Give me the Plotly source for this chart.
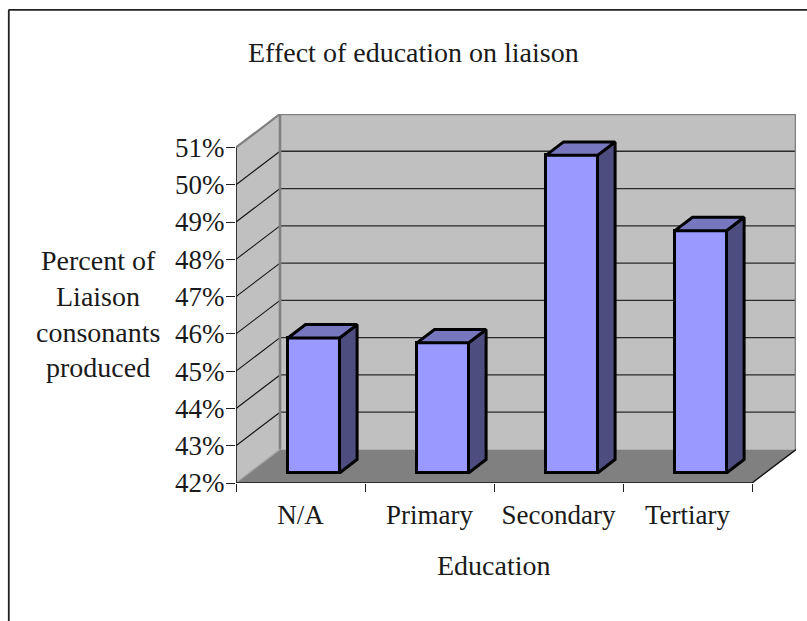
import plotly.graph_objects as go

# ---- data ----
categories = ["N/A", "Primary", "Secondary", "Tertiary"]
percent_liaison = [45.62, 45.49, 50.52, 48.50]
y_ticks = [42, 43, 44, 45, 46, 47, 48, 49, 50, 51]
y_tick_labels = [f"{v}%" for v in y_ticks]
title_text = "Effect of education on liaison"
x_title = "Education"
y_title_lines = ["Percent of", "Liaison", "consonants", "produced"]

# ---- layout constants ----
W, H = 807, 621
PX_L, PX_R, PX_T, PX_B = 236, 796, 114, 483
PX_PER_CAT = 129.0
PX_PER_PCT = 37.28
DEPTH_X = 44 / PX_PER_CAT      # oblique depth in axis units
DEPTH_Y = 33.5 / PX_PER_PCT
BAR_WIDTH = 0.4
BAR_D0, BAR_D1 = 0.3, 0.7      # bar front/back along depth
V_MIN, V_MAX = y_ticks[0], y_ticks[-1]
N = len(categories)
FONT = "Liberation Serif"
FS_TICK = 27
FS_TEXT = 28
INK = "#1a1a1a"
EDGE = "#808080"
WALL = "#c0c0c0"
FLOOR = "#808080"
BAR_FRONT = "#9999ff"
BAR_SIDE = "#4d4d80"
BAR_TOP = "#7777c0"
BAR_LINE = 3.0


def proj(x, v, d=0.0):
    """Oblique projection of (category pos, value, depth) to axis coords."""
    return x + d * DEPTH_X, v + d * DEPTH_Y


def path(points):
    pts = [proj(*p) for p in points]
    return "M " + " L ".join(f"{a},{b}" for a, b in pts) + " Z"


def poly_trace(points, fill, line_w=BAR_LINE):
    pts = [proj(*p) for p in points]
    pts.append(pts[0])
    return go.Scatter(x=[p[0] for p in pts], y=[p[1] for p in pts], mode="lines",
                      fill="toself", fillcolor=fill,
                      line=dict(color="#000000", width=line_w, simplify=False),
                      hoverinfo="skip", showlegend=False, cliponaxis=False)


def line_trace(points, color, width):
    pts = [proj(*p) for p in points]
    return go.Scatter(x=[p[0] for p in pts], y=[p[1] for p in pts], mode="lines",
                      line=dict(color=color, width=width),
                      hoverinfo="skip", showlegend=False, cliponaxis=False)


def shape_line(a, b, color, width):
    (x0, y0), (x1, y1) = proj(*a), proj(*b)
    return dict(type="line", xref="x", yref="y", x0=x0, y0=y0, x1=x1, y1=y1,
                layer="below", line=dict(color=color, width=width))


fig = go.Figure()

# Walls and floor
shapes = [
    dict(type="path", xref="x", yref="y", layer="below", line_width=0, fillcolor=WALL,
         path=path([(0, V_MIN, 1), (N, V_MIN, 1), (N, V_MAX, 1), (0, V_MAX, 1)])),
    dict(type="path", xref="x", yref="y", layer="below", line_width=0, fillcolor=WALL,
         path=path([(0, V_MIN, 0), (0, V_MIN, 1), (0, V_MAX, 1), (0, V_MAX, 0)])),
    dict(type="path", xref="x", yref="y", layer="below", line_width=0, fillcolor=FLOOR,
         path=path([(0, V_MIN, 0), (N, V_MIN, 0), (N, V_MIN, 1), (0, V_MIN, 1)])),
]
# Gridlines on both walls
for v in y_ticks[1:-1]:
    shapes.append(shape_line((0, v, 1), (N, v, 1), "#2a2a2a", 1.3))
    shapes.append(shape_line((0, v, 0), (0, v, 1), "#111111", 1.1))

# Frame of the chart area
shapes.append(dict(type="line", xref="paper", yref="paper",
                   x0=8.5 / W, x1=1, y0=1 - 9.8 / H, y1=1 - 9.8 / H,
                   line=dict(color="#222222", width=1.8)))
shapes.append(dict(type="line", xref="paper", yref="paper",
                   x0=8.8 / W, x1=8.8 / W, y0=0, y1=1 - 9.8 / H,
                   line=dict(color="#222222", width=1.8)))

# Bar fronts
fig.add_trace(go.Bar(
    x=[i + 0.5 + BAR_D0 * DEPTH_X for i in range(N)],
    y=[v - V_MIN for v in percent_liaison],
    base=[V_MIN + BAR_D0 * DEPTH_Y] * N,
    width=BAR_WIDTH,
    marker=dict(color=BAR_FRONT, line=dict(color="#000000", width=BAR_LINE)),
    hoverinfo="skip", showlegend=False,
))

# Wall edges, axis lines
fig.add_trace(line_trace([(0, V_MIN, 1), (0, V_MAX, 1), (N, V_MAX, 1), (N, V_MIN, 1)], EDGE, 2.6))
fig.add_trace(line_trace([(0, V_MAX, 0), (0, V_MAX, 1)], EDGE, 2.2))
fig.add_trace(line_trace([(0, V_MIN, 0), (0, V_MIN, 1)], "#a0a0a0", 1.2))
fig.add_trace(line_trace([(0, V_MIN, 0), (0, V_MAX, 0)], "#111111", 1.6))
fig.add_trace(line_trace([(0, V_MIN, 0), (N, V_MIN, 0), (N, V_MIN, 1)], "#111111", 1.4))

# Bar sides and tops
for i, v in enumerate(percent_liaison):
    x0 = i + 0.5 - BAR_WIDTH / 2
    x1 = i + 0.5 + BAR_WIDTH / 2
    fig.add_trace(poly_trace([(x1, V_MIN, BAR_D0), (x1, V_MIN, BAR_D1),
                              (x1, v, BAR_D1), (x1, v, BAR_D0)], BAR_SIDE))
    fig.add_trace(poly_trace([(x0, v, BAR_D0), (x1, v, BAR_D0),
                              (x1, v, BAR_D1), (x0, v, BAR_D1)], BAR_TOP))


def text(s, px, py):
    return dict(text=s, x=px / W, y=1 - py / H, xref="paper", yref="paper",
                showarrow=False, xanchor="center", yanchor="middle",
                font=dict(family=FONT, size=FS_TEXT, color=INK))


annotations = [text(title_text, 413.5, 52), text(x_title, 493.7, 565)]
for line, py in zip(y_title_lines, [260, 296, 332, 367]):
    annotations.append(text(line, 98.3, py))

fig.update_layout(
    width=W, height=H, margin=dict(l=0, r=0, t=0, b=0, autoexpand=False),
    paper_bgcolor="white", plot_bgcolor="rgba(0,0,0,0)",
    shapes=shapes, annotations=annotations, showlegend=False,
    bargap=0,
    xaxis=dict(domain=[PX_L / W, PX_R / W], range=[0, (PX_R - PX_L) / PX_PER_CAT],
               tickmode="array", tickvals=[i + 0.5 for i in range(N)], ticktext=categories,
               ticks="", showgrid=False, zeroline=False, showline=False,
               tickfont=dict(family=FONT, size=FS_TICK, color=INK), ticklabelstandoff=13,
               minor=dict(tickmode="array", tickvals=list(range(N + 1)), ticks="outside",
                          ticklen=8, tickwidth=1.4, tickcolor="#222222", showgrid=False)),
    yaxis=dict(domain=[1 - PX_B / H, 1 - PX_T / H],
               range=[V_MIN, V_MIN + (PX_B - PX_T) / PX_PER_PCT],
               tickmode="array", tickvals=y_ticks, ticktext=y_tick_labels,
               ticks="outside", ticklen=9, tickwidth=1.4, tickcolor="#222222",
               showgrid=False, zeroline=False, showline=False, ticklabelstandoff=-4,
               tickfont=dict(family=FONT, size=FS_TICK, color=INK)),
)

fig.write_html("out.html", config=dict(displayModeBar=False),
               post_script="document.body.style.margin='0';document.body.style.overflow='hidden';")
